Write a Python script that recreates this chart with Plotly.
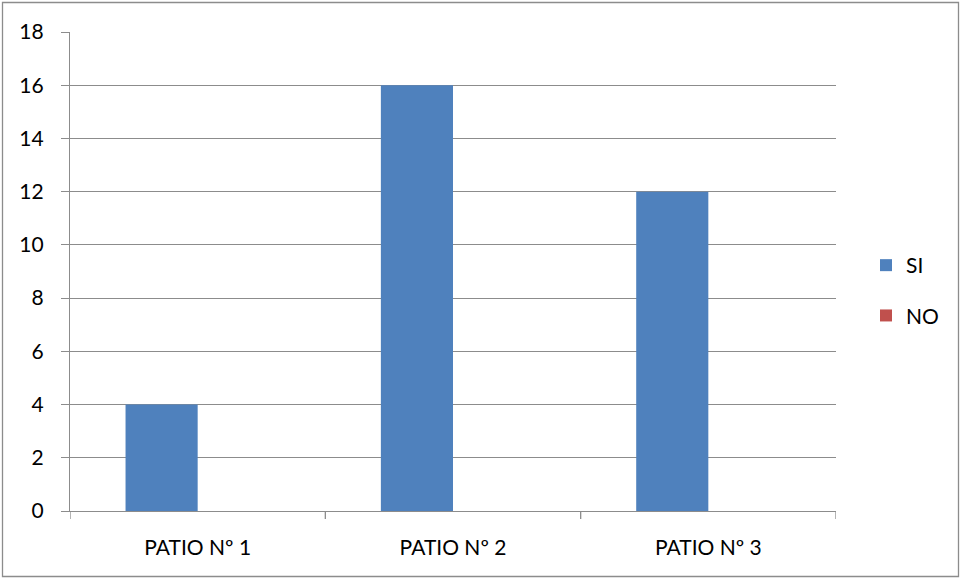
import plotly.graph_objects as go

categories = ["PATIO Nº 1", "PATIO Nº 2", "PATIO Nº 3"]
si_values = [4, 16, 12]
no_values = [0, 0, 0]
y_ticks = [0, 2, 4, 6, 8, 10, 12, 14, 16, 18]

W, H = 961, 578
ml, mr, mt, mb = 70, 125, 32, 67
pw, ph = W - ml - mr, H - mt - mb

def px_to_paper_x(px):
    return (px - ml) / pw

def px_to_paper_y(py):
    return 1 - (py - mt) / ph

grid = "#8c8c8c"
font = dict(family="Lato, 'Open Sans', sans-serif", size=21, color="#000000")

fig = go.Figure()
fig.add_trace(go.Bar(name="SI", x=categories, y=si_values, marker_color="#4f81bd",
                     marker_line_width=0, legendgroup="a"))
fig.add_trace(go.Bar(name="NO", x=categories, y=no_values, marker_color="#c0504d",
                     marker_line_width=0, legendgroup="b"))

# category boundary ticks on x axis
for i in range(len(categories) + 1):
    fig.add_shape(type="line", xref="x", yref="paper", x0=i - 0.5, x1=i - 0.5,
                  y0=0, y1=-8 / ph, line=dict(color=grid, width=1.3))

# chart border
fig.add_shape(type="rect", xref="paper", yref="paper",
              x0=px_to_paper_x(2.5), x1=px_to_paper_x(958.5),
              y0=px_to_paper_y(576.5), y1=px_to_paper_y(2.5),
              line=dict(color="#8c8c8c", width=1.3), fillcolor="rgba(0,0,0,0)", layer="below")

fig.update_layout(
    width=W, height=H,
    margin=dict(l=ml, r=mr, t=mt, b=mb, pad=0),
    paper_bgcolor="white", plot_bgcolor="white",
    barmode="group", bargap=0.435, bargroupgap=0,
    font=font,
    showlegend=True,
    legend=dict(x=px_to_paper_x(866), y=px_to_paper_y(245), xanchor="left", yanchor="top",
                tracegroupgap=20, font=dict(size=21), itemwidth=30,
                bgcolor="rgba(0,0,0,0)"),
)
fig.update_xaxes(showline=True, linecolor=grid, linewidth=1.3, showgrid=False,
                 ticks="", tickfont=font, range=[-0.5, 2.5], ticklabelstandoff=18)
fig.update_yaxes(range=[0, 18], tickvals=y_ticks, showgrid=True, gridcolor=grid,
                 gridwidth=1.3, showline=True, linecolor=grid, linewidth=1.3,
                 ticks="outside", ticklen=8, tickcolor=grid, tickwidth=1.3,
                 tickfont=font, zeroline=False, ticklabelstandoff=13)

fig.write_html("out.html", config={"displayModeBar": False},
               post_script="document.body.style.margin='0';")
